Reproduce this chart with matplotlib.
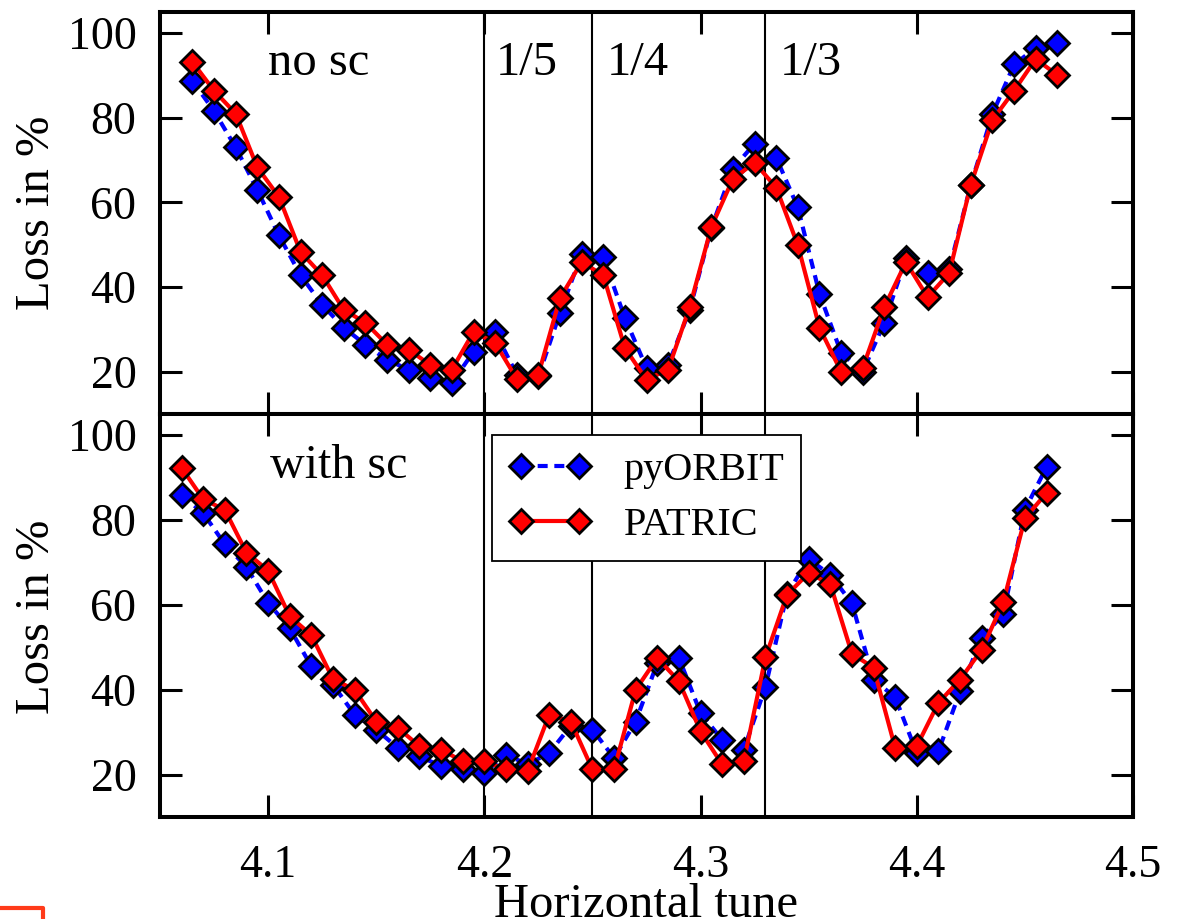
import matplotlib
matplotlib.use('Agg')
import matplotlib.pyplot as plt
from matplotlib.lines import Line2D

plt.rcParams['font.family'] = ['Liberation Serif', 'DejaVu Serif']

# ---------------- data ----------------
tune_nosc = [4.065, 4.075, 4.085, 4.095, 4.105, 4.115, 4.125, 4.135, 4.145, 4.155,
             4.165, 4.175, 4.185, 4.195, 4.205, 4.215, 4.225, 4.235, 4.245, 4.255,
             4.265, 4.275, 4.285, 4.295, 4.305, 4.315, 4.325, 4.335, 4.345, 4.355,
             4.365, 4.375, 4.385, 4.395, 4.405, 4.415, 4.425, 4.435, 4.445, 4.455,
             4.465]
pyorbit_nosc = [88.7, 81.6, 73.0, 63.0, 52.2, 42.8, 35.8, 30.4, 26.4, 22.8,
                20.5, 18.6, 17.4, 24.7, 29.4, 19.3, 18.9, 33.9, 47.9, 47.1,
                32.7, 20.9, 21.6, 34.6, 54.0, 68.0, 73.9, 70.6, 58.8, 38.4,
                24.5, 20.0, 31.6, 46.8, 43.3, 44.2, 64.2, 80.9, 92.6, 96.5,
                97.6]
patric_nosc = [93.2, 86.4, 81.0, 68.3, 61.3, 48.3, 42.8, 34.6, 31.6, 26.4,
               25.2, 21.6, 20.5, 29.4, 26.8, 18.3, 19.3, 37.4, 45.9, 42.8,
               25.6, 18.1, 20.5, 35.3, 54.2, 65.6, 69.4, 63.5, 49.9, 30.4,
               20.0, 20.9, 35.3, 45.9, 37.6, 43.3, 64.2, 79.5, 86.4, 93.9,
               90.1]

tune_sc = [4.06, 4.07, 4.08, 4.09, 4.10, 4.11, 4.12, 4.13, 4.14, 4.15,
           4.16, 4.17, 4.18, 4.19, 4.20, 4.21, 4.22, 4.23, 4.24, 4.25,
           4.26, 4.27, 4.28, 4.29, 4.30, 4.31, 4.32, 4.33, 4.34, 4.35,
           4.36, 4.37, 4.38, 4.39, 4.40, 4.41, 4.42, 4.43, 4.44, 4.45,
           4.46]
pyorbit_sc = [85.9, 81.6, 74.3, 68.9, 60.5, 54.5, 45.5, 41.2, 34.1, 30.6,
              26.3, 24.3, 22.0, 21.2, 20.4, 24.7, 22.4, 25.1, 31.5, 30.6,
              23.9, 32.5, 46.3, 47.5, 34.5, 28.2, 25.9, 40.6, 62.6, 70.8,
              67.1, 60.4, 42.4, 38.2, 25.1, 25.5, 39.6, 52.2, 57.8, 82.4,
              92.5]
patric_sc = [92.3, 84.9, 82.4, 72.3, 68.1, 57.3, 52.9, 42.5, 40.0, 32.5,
             31.0, 26.7, 25.9, 23.1, 23.1, 21.2, 20.8, 34.1, 32.5, 21.2,
             21.2, 40.0, 47.5, 42.0, 30.2, 22.4, 23.1, 47.6, 62.4, 67.5,
             64.9, 48.5, 45.2, 26.3, 26.7, 36.9, 42.4, 49.4, 60.6, 80.4,
             86.4]

resonances = [4.20, 4.25, 4.33]
resonance_labels = ['1/5', '1/4', '1/3']
resonance_label_x = [4.2055, 4.2565, 4.3365]
x_ticks = [4.1, 4.2, 4.3, 4.4, 4.5]
x_ticklabels = ['4.1', '4.2', '4.3', '4.4', '4.5']
y_ticks = [20, 40, 60, 80, 100]
y_ticklabels = ['20', '40', '60', '80', '100']

# ---------------- figure ----------------
W, H = 1180, 919
fig = plt.figure(figsize=(W / 100, H / 100), dpi=100)

L, R = 160 / W, 1133 / W
ax1 = fig.add_axes([L, 1 - 414 / H, R - L, 402 / H])
ax2 = fig.add_axes([L, 1 - 817 / H, R - L, 403 / H])

blue_kw = dict(color='#0000ff', lw=3.0, dashes=(2.4, 1.6), marker='D', ms=12.6,
               mfc='#0000ff', mec='black', mew=2.0)
red_kw = dict(color='#ff0000', lw=3.0, linestyle='-', marker='D', ms=12.6,
              mfc='#ff0000', mec='black', mew=2.0)

for ax, xs, yb, yr in [(ax1, tune_nosc, pyorbit_nosc, patric_nosc),
                       (ax2, tune_sc, pyorbit_sc, patric_sc)]:
    for xr in resonances:
        ax.axvline(xr, color='black', lw=1.5, zorder=1)
    ax.plot(xs, yb, label='pyORBIT', zorder=3, **blue_kw)
    ax.plot(xs, yr, label='PATRIC', zorder=4, **red_kw)
    ax.set_xlim(4.05, 4.5)
    ax.set_ylim(10, 105)
    ax.set_xticks(x_ticks)
    ax.set_yticks(y_ticks)
    ax.set_yticklabels(y_ticklabels)
    ax.tick_params(direction='in', length=16, width=2.2, top=True, right=True,
                   labelsize=33, pad=17)
    ax.tick_params(axis='x', pad=20)
    for sp in ax.spines.values():
        sp.set_linewidth(2.9)

ax1.set_xticklabels([])
ax2.set_xticklabels(x_ticklabels)

ax1.text(4.1, 90.0, 'no sc', fontsize=35, ha='left', va='baseline')
for lab, xl in zip(resonance_labels, resonance_label_x):
    ax1.text(xl, 90.0, lab, fontsize=35, ha='left', va='baseline')
ax2.text(4.101, 90.0, 'with sc', fontsize=34.5, ha='left', va='baseline')

leg = ax2.legend(loc='upper left', bbox_to_anchor=((492 - 160) / 973, (817 - 435) / 403),
                 borderaxespad=0, fontsize=29, frameon=True, fancybox=False,
                 edgecolor='black', framealpha=1, numpoints=2, handlelength=2.05,
                 handletextpad=0.8, labelspacing=0.45, borderpad=0.42)
leg.get_frame().set_linewidth(1.3)

fig.text(646 / W, 1 - 917 / H, 'Horizontal tune', fontsize=35, ha='center', va='baseline')
fig.text(37 / W, 1 - 213 / H, 'Loss in %', fontsize=35, rotation=90, ha='center', va='center')
fig.text(37 / W, 1 - 617 / H, 'Loss in %', fontsize=35, rotation=90, ha='center', va='center')

# small red frame fragment visible in the lower left corner
fig.add_artist(Line2D([0, 43 / W, 43 / W], [1 - 908 / H, 1 - 908 / H, 0],
                      transform=fig.transFigure, color='#ff3a1a', lw=3))

fig.savefig('out.png', dpi=100)
